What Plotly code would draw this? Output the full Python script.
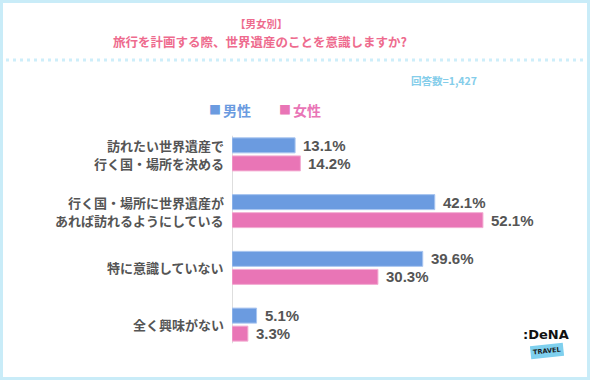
import plotly.graph_objects as go

categories = ["訪れたい世界遺産で<br>行く国・場所を決める",
              "行く国・場所に世界遺産が<br>あれば訪れるようにしている",
              "特に意識していない",
              "全く興味がない"]
male = [13.1, 42.1, 39.6, 5.1]
female = [14.2, 52.1, 30.3, 3.3]
series_names = ["男性", "女性"]

W, H = 590, 380
L, R, T, B = 232, 69, 126, 27
PW, PH = W - L - R, H - T - B

def px(p):
    return (p - L) / PW

def py(p):
    return (H - B - p) / PH

BLUE = "#6b9be0"
PINK = "#e975b6"
TITLE = "#ee6b8e"
GRAY = "#555555"
FONT = "Noto Sans CJK JP"

idx = list(range(len(categories)))
fig = go.Figure()
fig.add_trace(go.Bar(y=idx, x=male, orientation="h", name=series_names[0],
                     marker=dict(color=BLUE, line=dict(color="#a8c5f0", width=1))))
fig.add_trace(go.Bar(y=idx, x=female, orientation="h", name=series_names[1],
                     marker=dict(color=PINK, line=dict(color="#f3aed3", width=1))))

cat_px = PH / len(categories)
off = 9 / cat_px
ann = []
for i, (m, f) in enumerate(zip(male, female)):
    for v, o in ((m, -off), (f, off)):
        ann.append(dict(x=v, y=i + o, xref="x", yref="y", text=f"{v:.1f}%",
                        showarrow=False, xanchor="left", yanchor="middle", xshift=6,
                        font=dict(family="Liberation Sans", size=15, color=GRAY, weight="bold")))

# category labels, one annotation per line
for i, c in enumerate(categories):
    lines = c.split("<br>")
    n = len(lines)
    for k, line in enumerate(lines):
        dy = (k - (n - 1) / 2) * 18 / cat_px
        ann.append(dict(x=0, y=i + dy, xref="x", yref="y", text=line, showarrow=False,
                        xanchor="right", yanchor="middle", xshift=-6,
                        font=dict(family=FONT, size=13, color=GRAY, weight="bold")))

extra = [
    dict(x=px(261), y=py(23), xanchor="center", text="【男女別】",
         font=dict(size=10.5, color=TITLE, family=FONT, weight="bold")),
    dict(x=px(260), y=py(41), xanchor="center", text="旅行を計画する際、世界遺産のことを意識しますか?",
         font=dict(size=12.5, color=TITLE, family=FONT, weight="bold")),
    dict(x=px(479), y=py(80), xanchor="right", text="回答数=1,427",
         font=dict(size=10.5, color="#84cdea", family=FONT, weight="bold")),
    dict(x=px(207), y=py(110), xanchor="left", text="■", font=dict(size=12, color=BLUE, family=FONT)),
    dict(x=px(221), y=py(110), xanchor="left", text=series_names[0],
         font=dict(size=14, color=BLUE, family=FONT, weight="bold")),
    dict(x=px(277), y=py(110), xanchor="left", text="■", font=dict(size=12, color=PINK, family=FONT)),
    dict(x=px(291), y=py(110), xanchor="left", text=series_names[1],
         font=dict(size=14, color=PINK, family=FONT, weight="bold")),
    dict(x=px(546), y=py(334), xanchor="center", text=":DeNA",
         font=dict(size=13, color="#111111", family="DejaVu Sans", weight="bold")),
    dict(x=px(547), y=py(351), xanchor="center", text="TRAVEL", textangle=-6, bgcolor="#7fd0ee",
         borderpad=2, font=dict(size=6.5, color="#1a1a1a", family="DejaVu Sans", weight="bold")),
]
for a in extra:
    a.update(xref="paper", yref="paper", showarrow=False, yanchor="middle")
ann += extra

shapes = [
    dict(type="rect", xref="paper", yref="paper", x0=px(1.5), x1=px(588.5), y0=py(378.5), y1=py(1.5),
         line=dict(color="#c9ecf8", width=3), layer="below"),
    dict(type="line", xref="paper", yref="paper", x0=px(6), x1=px(585), y0=py(60), y1=py(60),
         line=dict(color="#cdeefa", width=3, dash="3px,4px")),
    dict(type="line", xref="x", yref="y", x0=0, x1=0, y0=-0.33, y1=3.33,
         line=dict(color="#c8c8c8", width=1.2), layer="between"),
]

fig.update_layout(
    width=W, height=H, margin=dict(l=L, r=R, t=T, b=B),
    paper_bgcolor="white", plot_bgcolor="white",
    barmode="group", bargap=0.365, bargroupgap=0.167,
    showlegend=False, annotations=ann, shapes=shapes,
    xaxis=dict(range=[0, 60], visible=False),
    yaxis=dict(tickvals=idx, autorange="reversed",
               showgrid=False, zeroline=False, showline=False, ticks="",
               showticklabels=False, automargin=False),
)
fig.update_traces(cliponaxis=False)
fig.write_html("out.html", config={"displayModeBar": False},
               post_script="document.body.style.margin='0';document.body.style.overflow='hidden';")
